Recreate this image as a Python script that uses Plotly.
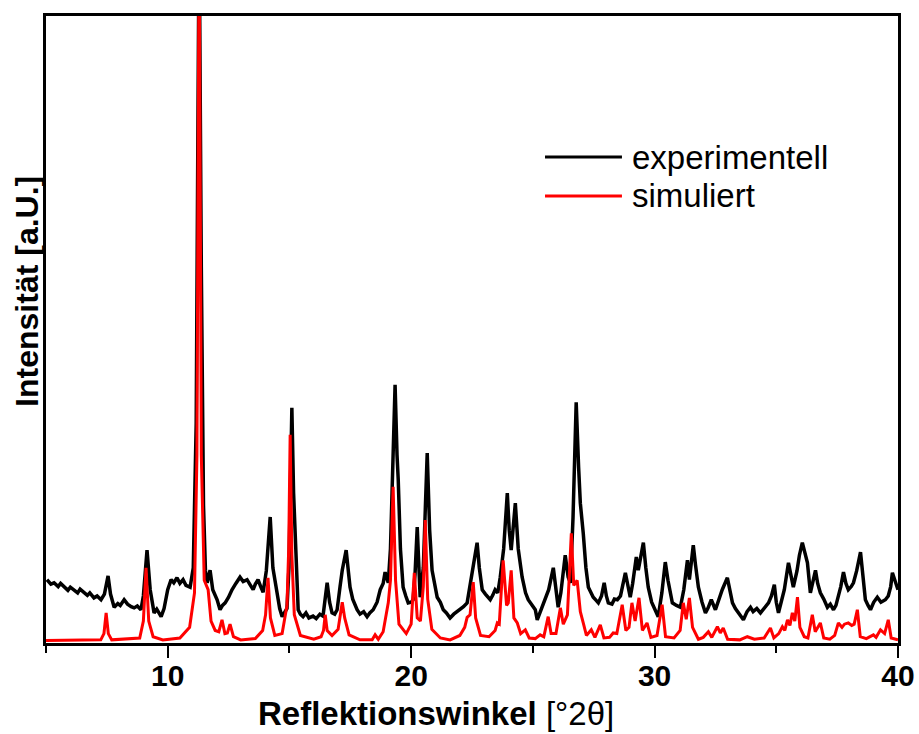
import plotly.graph_objects as go

# Powder pattern: measured trace (2theta in degrees, intensity in arbitrary units)
exp_2theta = [
    5.04, 5.2, 5.33, 5.5, 5.6, 5.74, 5.9, 6.0, 6.15, 6.3,
    6.4, 6.56, 6.7, 6.8, 6.97, 7.1, 7.26, 7.4, 7.55, 7.65,
    7.8, 7.95, 8.05, 8.21, 8.35, 8.5, 8.62, 8.75, 8.9, 9.0,
    9.15, 9.28, 9.44, 9.55, 9.73, 9.85, 10.0, 10.14, 10.25, 10.38,
    10.5, 10.63, 10.75, 10.92, 11.05, 11.17, 11.29, 11.38, 11.47, 11.55,
    11.62, 11.74, 11.85, 12.03, 12.15, 12.25, 12.36, 12.5, 12.64, 12.8,
    12.97, 13.1, 13.26, 13.4, 13.51, 13.6, 13.71, 13.82, 13.92, 14.05,
    14.21, 14.32, 14.49, 14.6, 14.7, 14.8, 14.9, 14.98, 15.1, 15.17,
    15.23, 15.3, 15.36, 15.45, 15.56, 15.68, 15.8, 15.97, 16.1, 16.25,
    16.38, 16.45, 16.55, 16.65, 16.75, 16.86, 16.96, 17.08, 17.17, 17.33,
    17.42, 17.49, 17.6, 17.78, 17.9, 18.05, 18.19, 18.3, 18.44, 18.6,
    18.73, 18.85, 18.93, 19.06, 19.15, 19.34, 19.42, 19.47, 19.56, 19.67,
    19.78, 19.88, 20.0, 20.08, 20.16, 20.25, 20.37, 20.5, 20.66, 20.76,
    20.86, 20.95, 21.07, 21.2, 21.32, 21.45, 21.6, 21.75, 21.88, 22.01,
    22.15, 22.3, 22.42, 22.51, 22.71, 22.8, 22.92, 23.05, 23.25, 23.35,
    23.45, 23.56, 23.66, 23.8, 23.95, 24.03, 24.11, 24.28, 24.4, 24.56,
    24.7, 24.81, 24.95, 25.1, 25.18, 25.3, 25.4, 25.51, 25.65, 25.84,
    25.95, 26.04, 26.15, 26.33, 26.45, 26.54, 26.65, 26.78, 26.88, 26.95,
    27.07, 27.18, 27.28, 27.38, 27.48, 27.6, 27.69, 27.82, 27.93, 28.02,
    28.1, 28.25, 28.35, 28.47, 28.6, 28.8, 28.9, 29.0, 29.1, 29.25,
    29.33, 29.45, 29.54, 29.64, 29.74, 29.88, 30.03, 30.15, 30.3, 30.44,
    30.55, 30.73, 30.9, 31.06, 31.2, 31.35, 31.43, 31.59, 31.68, 31.8,
    31.95, 32.09, 32.2, 32.33, 32.5, 32.65, 32.78, 32.99, 33.1, 33.2,
    33.32, 33.44, 33.55, 33.65, 33.8, 33.94, 34.05, 34.2, 34.35, 34.5,
    34.68, 34.8, 34.92, 35.0, 35.09, 35.2, 35.33, 35.5, 35.6, 35.7,
    35.85, 35.95, 36.07, 36.18, 36.28, 36.4, 36.5, 36.61, 36.7, 36.81,
    36.95, 37.1, 37.22, 37.35, 37.45, 37.55, 37.65, 37.76, 37.86, 37.96,
    38.08, 38.17, 38.3, 38.46, 38.55, 38.66, 38.77, 38.87, 39.0, 39.15,
    39.3, 39.48, 39.6, 39.7, 39.77, 39.89, 40.0,
]
exp_intensity = [
    10.1, 9.4, 9.6, 9.0, 9.5, 8.9, 8.4, 8.9, 8.4, 8.0,
    8.6, 8.1, 7.6, 8.0, 7.2, 7.5, 6.9, 7.8, 10.7, 7.8,
    5.7, 6.3, 6.0, 6.9, 6.2, 5.8, 5.6, 5.9, 5.3, 7.5,
    14.8, 8.5, 4.8, 5.4, 4.2, 5.5, 8.5, 10.1, 9.6, 10.4,
    9.5, 10.1, 9.2, 8.9, 12.0, 35.0, 115.0, 60.0, 22.0, 11.5,
    9.6, 11.6, 8.5, 6.9, 5.3, 6.0, 6.4, 7.3, 8.5, 9.5,
    10.5, 9.8, 10.1, 9.2, 8.5, 9.4, 10.1, 9.0, 8.1, 11.5,
    20.1, 12.0, 8.0, 5.5, 4.2, 4.9, 5.5, 12.0, 37.5, 24.0,
    17.5, 10.0, 5.3, 4.6, 4.2, 4.8, 4.0, 4.3, 3.9, 4.6,
    4.3, 6.5, 9.6, 6.5, 4.8, 4.6, 5.3, 9.0, 11.6, 14.8,
    11.0, 8.9, 7.0, 5.3, 4.6, 5.0, 4.2, 4.8, 5.3, 6.5,
    8.5, 9.5, 11.3, 9.6, 15.0, 41.2, 30.0, 26.0, 15.0, 8.9,
    7.5, 6.4, 6.5, 6.9, 11.0, 18.5, 7.3, 12.0, 30.3, 18.0,
    11.6, 9.5, 7.3, 6.5, 5.3, 4.8, 4.0, 4.6, 5.0, 5.3,
    5.8, 6.4, 9.0, 11.6, 16.0, 12.0, 8.5, 7.8, 6.9, 7.6,
    8.5, 8.0, 10.5, 15.0, 23.9, 18.0, 14.8, 22.3, 15.0, 10.5,
    8.0, 6.9, 6.0, 5.3, 3.7, 5.0, 6.0, 6.9, 8.5, 12.0,
    8.0, 5.7, 8.0, 14.0, 10.5, 9.6, 20.0, 38.4, 28.0, 22.3,
    17.5, 12.0, 8.9, 8.0, 7.3, 6.8, 6.4, 7.5, 9.6, 7.5,
    6.4, 6.2, 7.0, 6.9, 7.5, 11.2, 9.0, 7.3, 9.5, 13.7,
    11.6, 14.0, 16.0, 12.0, 8.9, 6.5, 5.3, 4.2, 8.0, 12.9,
    10.0, 6.4, 6.0, 5.7, 8.5, 13.2, 10.1, 15.6, 12.5, 8.9,
    6.5, 4.8, 5.6, 6.9, 5.3, 7.0, 8.5, 10.4, 8.0, 6.4,
    5.5, 4.8, 4.3, 3.7, 5.0, 5.7, 5.0, 5.5, 4.8, 5.5,
    6.4, 7.5, 9.3, 6.5, 4.8, 6.5, 8.5, 12.8, 10.5, 8.9,
    11.5, 14.0, 16.0, 14.0, 12.8, 8.0, 9.5, 11.6, 9.5, 8.0,
    7.0, 5.7, 6.2, 5.3, 6.0, 7.3, 9.0, 11.3, 9.5, 8.5,
    9.0, 9.6, 11.5, 14.5, 11.0, 6.9, 6.0, 5.3, 6.5, 7.3,
    6.5, 6.9, 7.5, 9.0, 11.2, 9.6, 8.5,
]

# Calculated pattern from the single-crystal structure
sim_2theta = [
    5.0, 7.25, 7.38, 7.47, 7.56, 7.7, 8.85, 9.0, 9.11, 9.22,
    9.4, 9.8, 10.5, 10.9, 11.1, 11.2, 11.29, 11.38, 11.5, 11.66,
    11.78, 11.95, 12.1, 12.23, 12.35, 12.45, 12.56, 12.7, 13.0, 13.6,
    13.9, 14.02, 14.12, 14.22, 14.4, 14.7, 14.9, 14.97, 15.03, 15.1,
    15.2, 15.45, 16.0, 16.3, 16.4, 16.47, 16.55, 16.75, 17.0, 17.1,
    17.17, 17.27, 17.45, 17.9, 18.4, 18.52, 18.65, 18.85, 19.0, 19.06,
    19.15, 19.26, 19.36, 19.5, 19.8, 20.0, 20.13, 20.25, 20.38, 20.5,
    20.58, 20.68, 20.85, 21.2, 21.6, 22.0, 22.2, 22.3, 22.42, 22.55,
    22.65, 22.85, 23.2, 23.45, 23.54, 23.62, 23.78, 23.92, 23.99, 24.11,
    24.22, 24.36, 24.5, 24.69, 24.85, 25.1, 25.3, 25.45, 25.63, 25.75,
    25.95, 26.13, 26.25, 26.42, 26.58, 26.68, 26.82, 26.95, 27.07, 27.2,
    27.4, 27.55, 27.77, 27.92, 28.15, 28.3, 28.45, 28.67, 28.82, 28.95,
    29.07, 29.2, 29.36, 29.5, 29.69, 29.85, 30.1, 30.31, 30.45, 30.8,
    31.05, 31.18, 31.3, 31.43, 31.56, 31.8, 32.0, 32.21, 32.35, 32.58,
    32.7, 32.82, 33.0, 33.5, 33.81, 34.1, 34.5, 34.76, 34.9, 35.1,
    35.25, 35.35, 35.46, 35.56, 35.66, 35.76, 35.87, 35.97, 36.15, 36.3,
    36.48, 36.6, 36.81, 36.95, 37.2, 37.4, 37.55, 37.7, 37.8, 37.96,
    38.1, 38.2, 38.33, 38.45, 38.7, 38.99, 39.1, 39.28, 39.45, 39.6,
    39.72, 40.0,
]
sim_intensity = [
    0.4, 0.5, 1.5, 4.8, 1.5, 0.5, 0.8, 3.5, 12.0, 3.5,
    1.0, 0.5, 0.8, 2.5, 8.0, 30.0, 115.0, 30.0, 10.0, 8.5,
    3.5, 2.0, 1.8, 3.7, 1.5, 1.6, 3.0, 1.0, 0.5, 0.7,
    2.0, 4.5, 10.4, 4.0, 1.2, 1.5, 6.0, 15.0, 33.2, 14.0,
    4.5, 1.2, 0.6, 1.0, 2.0, 4.5, 2.0, 1.2, 2.2, 5.0,
    6.5, 4.0, 1.3, 0.5, 0.5, 1.3, 0.6, 1.8, 5.0, 6.4,
    10.0, 24.9, 10.0, 3.0, 1.5, 3.0, 11.2, 4.0, 3.5, 9.0,
    19.6, 7.0, 2.2, 0.8, 0.5, 1.2, 2.5, 4.1, 4.5, 9.7,
    4.0, 1.2, 1.0, 2.0, 3.2, 3.0, 13.2, 6.0, 6.4, 11.6,
    4.0, 3.2, 1.5, 2.1, 0.8, 0.7, 1.3, 1.0, 4.2, 1.5,
    1.5, 5.6, 3.0, 4.5, 17.5, 9.2, 10.0, 5.0, 3.2, 1.2,
    2.1, 0.9, 2.9, 0.8, 0.9, 1.6, 1.5, 6.1, 2.0, 2.5,
    6.4, 3.5, 7.2, 2.0, 3.2, 0.9, 1.2, 6.1, 1.0, 0.8,
    2.0, 6.4, 3.8, 7.2, 2.5, 0.6, 0.9, 1.8, 0.9, 2.6,
    1.6, 2.4, 0.6, 0.5, 1.0, 0.6, 0.8, 2.4, 0.8, 1.5,
    2.6, 2.0, 3.7, 2.8, 4.8, 3.5, 7.3, 2.5, 1.0, 0.8,
    4.5, 1.8, 3.2, 0.8, 0.6, 1.2, 3.2, 2.5, 3.0, 3.2,
    2.8, 3.0, 5.3, 1.0, 0.7, 1.3, 0.9, 2.1, 1.5, 3.7,
    0.8, 0.5,
]

series_names = ["experimentell", "simuliert"]
series_colors = ["#000000", "#ff0000"]

x_tick_values = [10, 20, 30, 40]
x_tick_labels = ["10", "20", "30", "40"]

FONT = "Arial, 'Liberation Sans', sans-serif"

fig = go.Figure()
fig.add_trace(go.Scatter(
    x=exp_2theta, y=exp_intensity, mode="lines", name=series_names[0],
    line=dict(color=series_colors[0], width=3.5), showlegend=False,
))
fig.add_trace(go.Scatter(
    x=sim_2theta, y=sim_intensity, mode="lines", name=series_names[1],
    line=dict(color=series_colors[1], width=3), showlegend=False,
))

fig.update_layout(
    width=919, height=734,
    margin=dict(l=46, r=21, t=16, b=91),
    paper_bgcolor="white", plot_bgcolor="white",
    font=dict(family=FONT, color="black"),
)
fig.update_xaxes(
    range=[5, 40], tickvals=x_tick_values, ticktext=x_tick_labels,
    ticks="outside", ticklen=12, tickwidth=2, tickcolor="black",
    tickfont=dict(size=30, family=FONT, weight="bold"),
    ticklabelstandoff=-8,
    minor=dict(tickvals=[5, 15, 25, 35], ticks="outside", ticklen=7,
               tickwidth=2, tickcolor="black", showgrid=False),
    showline=True, linewidth=2.5, linecolor="black", mirror=True,
    showgrid=False, zeroline=False, automargin=False,
)
fig.update_yaxes(
    range=[0, 100], showticklabels=False, ticks="",
    showline=True, linewidth=2.5, linecolor="black", mirror=True,
    showgrid=False, zeroline=False, automargin=False,
)

# Axis titles
fig.add_annotation(
    text="<b>Reflektionswinkel</b> [°2θ]", xref="paper", yref="paper",
    x=0.458, y=-0.1132, xanchor="center", yanchor="middle", showarrow=False,
    font=dict(size=33, family=FONT, color="black"),
)
fig.add_annotation(
    text="<b>Intensität [a.U.]</b>", xref="paper", yref="paper",
    x=-0.0223, y=0.56, xanchor="center", yanchor="middle", showarrow=False,
    textangle=-90, font=dict(size=32, family=FONT, color="black"),
)

# Legend: line samples with labels
legend_rows = [0.775, 0.713]
for name, color, ly in zip(series_names, series_colors, legend_rows):
    fig.add_shape(type="line", xref="paper", yref="paper",
                  x0=0.5857, x1=0.676, y0=ly, y1=ly,
                  line=dict(color=color, width=3))
    fig.add_annotation(
        text=name, xref="paper", yref="paper", x=0.6854, y=ly,
        xanchor="left", yanchor="middle", showarrow=False,
        font=dict(size=33, family=FONT, color="black"),
    )

fig.write_html("out.html")
